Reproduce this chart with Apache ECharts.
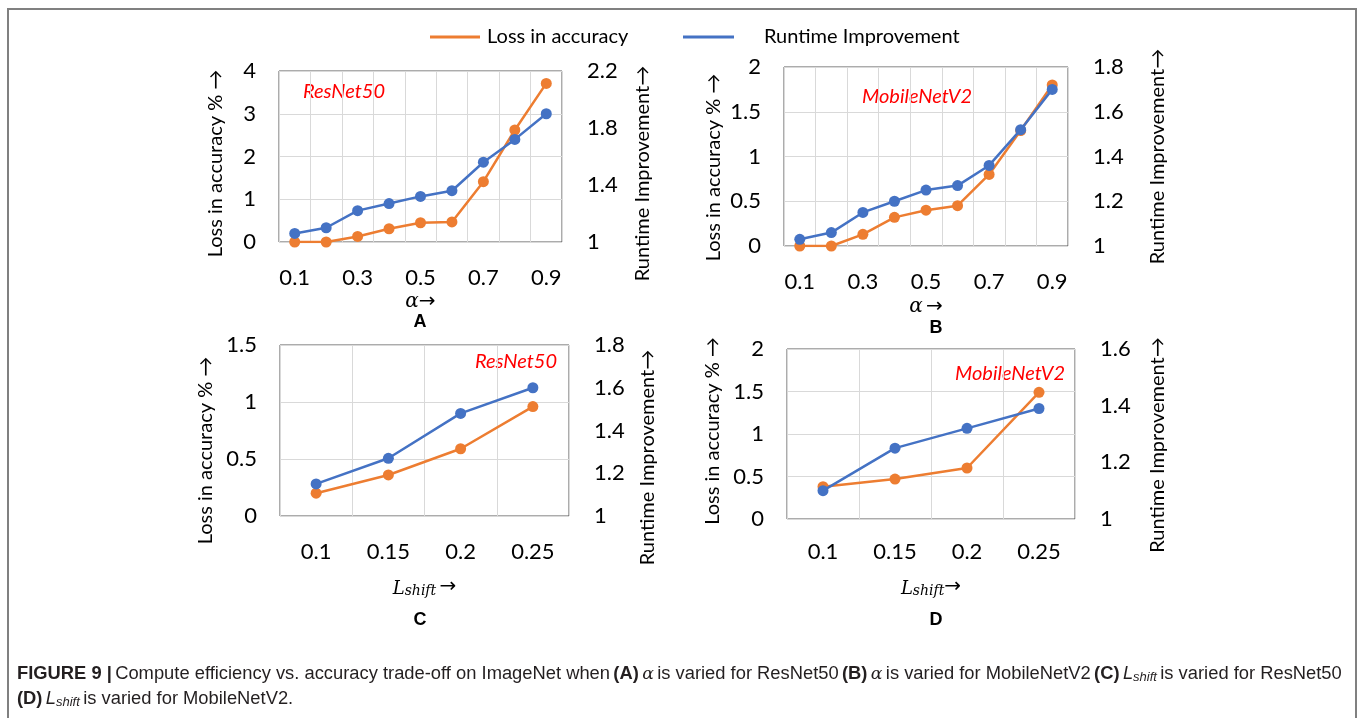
<!DOCTYPE html>
<html>
<head>
<meta charset="utf-8">
<script src="https://cdn.jsdelivr.net/npm/echarts@6/dist/echarts.min.js"></script>
<style>
html,body{margin:0;padding:0;background:#fff;}
#chart{width:1360px;height:718px;}
</style>
</head>
<body>
<div id="chart"></div>
<script>
// ---- data ----
const alphaCats = ['0.1','0.2','0.3','0.4','0.5','0.6','0.7','0.8','0.9'];
const lshiftCats = ['0.1','0.15','0.2','0.25'];

const resnetAlphaLoss    = [0, 0, 0.13, 0.31, 0.45, 0.47, 1.41, 2.62, 3.71];
const resnetAlphaRuntime = [1.06, 1.10, 1.22, 1.27, 1.32, 1.36, 1.56, 1.72, 1.90];

const mobileAlphaLoss    = [0, 0, 0.13, 0.32, 0.40, 0.45, 0.80, 1.29, 1.80];
const mobileAlphaRuntime = [1.03, 1.06, 1.15, 1.20, 1.25, 1.27, 1.36, 1.52, 1.70];

const resnetShiftLoss    = [0.20, 0.36, 0.59, 0.96];
const resnetShiftRuntime = [1.15, 1.27, 1.48, 1.60];

const mobileShiftLoss    = [0.38, 0.47, 0.60, 1.49];
const mobileShiftRuntime = [1.10, 1.25, 1.32, 1.39];

const lossName = 'Loss in accuracy';
const runtimeName = 'Runtime Improvement';
const leftAxisName = 'Loss in accuracy % \u2192';
const rightAxisName = 'Runtime Improvement\u2192';
const panelLetters = ['A','B','C','D'];
const modelNames = ['ResNet50','MobileNetV2','ResNet50','MobileNetV2'];

// ---- styling / layout ----
const ORANGE = '#ED7D31';
const BLUE = '#4472C4';
const FONT = 'Lato, "Open Sans", sans-serif';
const MATH = '"DejaVu Serif", "Liberation Serif", serif';

const panels = [
  { grid:{left:279, top:71, width:283, height:171}, cats:alphaCats, lbl:1, loss:resnetAlphaLoss, rt:resnetAlphaRuntime,
    ly:{min:0,max:4,interval:1}, ry:{min:1,max:2.2,interval:0.4}, xname:'alpha', xGap:50, xMargin:25,
    lGap:53, rGap:71, lShift:7, rShift:17 },
  { grid:{left:784, top:67, width:284, height:179}, cats:alphaCats, lbl:1, loss:mobileAlphaLoss, rt:mobileAlphaRuntime,
    ly:{min:0,max:2,interval:0.5}, ry:{min:1,max:1.8,interval:0.2}, xname:'alpha2', xGap:51, xMargin:25,
    lGap:60, rGap:80, lShift:11, rShift:0 },
  { grid:{left:280, top:345, width:289, height:171}, cats:lshiftCats, lbl:0, loss:resnetShiftLoss, rt:resnetShiftRuntime,
    ly:{min:0,max:1.5,interval:0.5}, ry:{min:1,max:1.8,interval:0.2}, xname:'lshift', xGap:60, xMargin:25,
    lGap:64, rGap:69, lShift:20, rShift:27 },
  { grid:{left:787, top:349, width:288, height:170}, cats:lshiftCats, lbl:0, loss:mobileShiftLoss, rt:mobileShiftRuntime,
    ly:{min:0,max:2,interval:0.5}, ry:{min:1,max:1.6,interval:0.2}, xname:'lshift2', xGap:57, xMargin:22,
    lGap:64, rGap:73, lShift:-3, rShift:11 }
];

const xNameRich = {
  a: {fontFamily:MATH, fontStyle:'italic', fontSize:20, color:'#000'},
  n: {fontFamily:'"DejaVu Sans", sans-serif', fontSize:20, color:'#000'},
  L: {fontFamily:MATH, fontStyle:'italic', fontSize:18, color:'#000', verticalAlign:'bottom'},
  s: {fontFamily:MATH, fontStyle:'italic', fontSize:14, color:'#000', verticalAlign:'bottom', padding:[8,0,0,0]}
};
function xNameText(kind){
  if (kind === 'alpha') return '{a|\u03b1}{n|\u2192}';
  if (kind === 'alpha2') return '{a|\u03b1} {n|\u2192}';
  if (kind === 'lshift') return '{L|L}{s|shift} {n|\u2192}';
  return '{L|L}{s|shift}{n|\u2192}';
}

const grids = [], xAxes = [], yAxes = [], series = [], graphics = [];
panels.forEach((p, i) => {
  grids.push(Object.assign({show:true, borderColor:'#595959', borderWidth:1, backgroundColor:'transparent'}, p.grid));
  xAxes.push({
    gridIndex:i, type:'category', data:p.cats, boundaryGap:true,
    axisLine:{show:false}, axisTick:{show:false, interval:0},
    splitLine:{show:true, interval:0, lineStyle:{color:'#d9d9d9', width:1}},
    axisLabel:{interval:p.lbl, margin:p.xMargin, fontSize:22, fontFamily:FONT, color:'#000'},
    name:xNameText(p.xname), nameLocation:'middle', nameGap:p.xGap,
    nameTextStyle:{rich:xNameRich}
  });
  yAxes.push({
    gridIndex:i, type:'value', position:'left', min:p.ly.min, max:p.ly.max, interval:p.ly.interval,
    axisLine:{show:false}, axisTick:{show:false},
    splitLine:{show:true, lineStyle:{color:'#d9d9d9', width:1}},
    axisLabel:{margin:23, fontSize:22, fontFamily:FONT, color:'#000'},
    name:leftAxisName, nameLocation:'middle', nameRotate:90, nameGap:p.lGap,
    nameTextStyle:{fontSize:20, fontFamily:FONT, color:'#000',
      padding: p.lShift >= 0 ? [0, 2*p.lShift, 0, 0] : [0, 0, 0, -2*p.lShift]}
  });
  yAxes.push({
    gridIndex:i, type:'value', position:'right', min:p.ry.min, max:p.ry.max, interval:p.ry.interval,
    axisLine:{show:false}, axisTick:{show:false}, splitLine:{show:false},
    axisLabel:{margin:25, fontSize:22, fontFamily:FONT, color:'#000'},
    name:rightAxisName, nameLocation:'middle', nameRotate:90, nameGap:p.rGap,
    nameTextStyle:{fontSize:20, fontFamily:FONT, color:'#000',
      padding: p.rShift >= 0 ? [0, 2*p.rShift, 0, 0] : [0, 0, 0, -2*p.rShift]}
  });
  series.push({
    name:lossName, type:'line', xAxisIndex:i, yAxisIndex:2*i, data:p.loss,
    symbol:'circle', symbolSize:11, color:ORANGE,
    lineStyle:{color:ORANGE, width:2.5}, itemStyle:{color:ORANGE}, z:2
  });
  series.push({
    name:runtimeName, type:'line', xAxisIndex:i, yAxisIndex:2*i+1, data:p.rt,
    symbol:'circle', symbolSize:11, color:BLUE,
    lineStyle:{color:BLUE, width:2.5}, itemStyle:{color:BLUE}, z:3
  });
});

// model labels and panel letters
const modelPos = [[303,94],[862,99],[475,364],[955,376]];
modelNames.forEach((m, i) => {
  graphics.push({type:'text', left:modelPos[i][0], top:modelPos[i][1]-12,
    style:{text:m, fill:'#FF0000', font:'italic 20px ' + FONT}});
});
const letterPos = [[420,322],[936,328],[420,620],[936,620]];
panelLetters.forEach((l, i) => {
  graphics.push({type:'text', x:letterPos[i][0], y:letterPos[i][1],
    style:{text:l, fill:'#000', font:'bold 18px "Liberation Sans", Arial, sans-serif', align:'center', verticalAlign:'middle'}});
});

// outer frame
graphics.push({type:'rect', shape:{x:8, y:9, width:1348, height:730}, style:{fill:'none', stroke:'#808080', lineWidth:2}, silent:true});

// caption
const capFont = '"Liberation Sans", Arial, sans-serif';
const CS = 18.35;
const capRich = {
  b:{fontFamily:capFont, fontWeight:'bold', fontSize:CS, fill:'#231f20'},
  n:{fontFamily:capFont, fontSize:CS, fill:'#231f20'},
  g:{fontFamily:MATH, fontStyle:'italic', fontSize:CS-1, fill:'#231f20'},
  i:{fontFamily:capFont, fontStyle:'italic', fontSize:CS, fill:'#231f20'},
  s:{fontFamily:capFont, fontStyle:'italic', fontSize:13, fill:'#231f20', verticalAlign:'bottom', padding:[6,0,0,0]}
};
graphics.push({type:'text', left:17, top:665,
  style:{text:'{b|FIGURE 9 |} {n|Compute efficiency vs. accuracy trade-off on ImageNet when} {b|(A)} {g|\u03b1} {n|is varied for ResNet50} {b|(B)} {g|\u03b1} {n|is varied for MobileNetV2} {b|(C)} {i|L}{s|shift} {n|is varied for ResNet50}',
    rich:capRich}});
graphics.push({type:'text', left:17, top:690,
  style:{text:'{b|(D)} {i|L}{s|shift} {n|is varied for MobileNetV2.}', rich:capRich}});

const option = {
  animation:false,
  backgroundColor:'#fff',
  legend:[
    {data:[lossName], left:425, top:22, icon:'rect', itemWidth:50, itemHeight:3,
     textStyle:{fontSize:20, fontFamily:FONT, color:'#000', padding:[0,0,0,2]}},
    {data:[runtimeName], left:678, top:22, icon:'rect', itemWidth:51, itemHeight:3,
     textStyle:{fontSize:20, fontFamily:FONT, color:'#000', padding:[0,0,0,25]}}
  ],
  grid:grids, xAxis:xAxes, yAxis:yAxes, series:series, graphic:graphics
};

const chart = echarts.init(document.getElementById('chart'), null, {renderer:'canvas'});
chart.setOption(option);
</script>
</body>
</html>
